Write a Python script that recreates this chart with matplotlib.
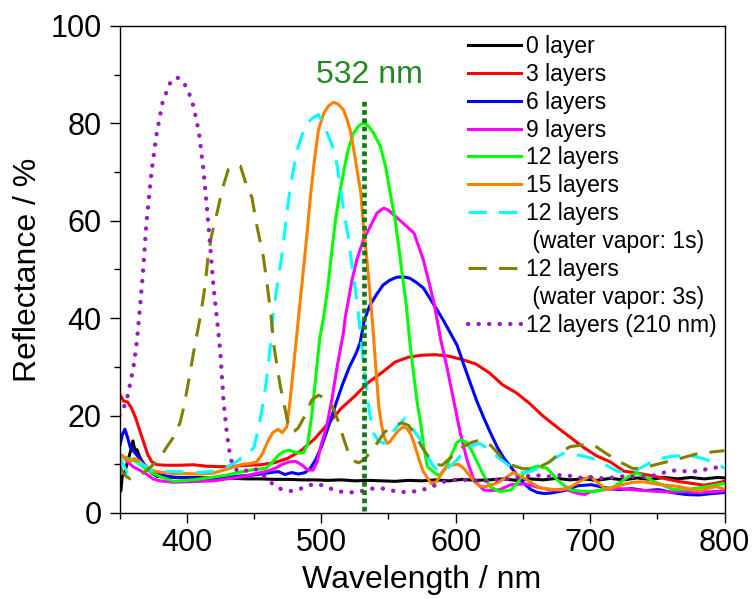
import matplotlib
matplotlib.use('Agg')
import matplotlib.pyplot as plt
from matplotlib.lines import Line2D

plt.rcParams['font.family'] = ['Liberation Sans', 'DejaVu Sans']

# ---------------- data ----------------
wl_0 = [350, 351, 352, 354, 356, 358, 360, 361.5, 363, 365, 368, 371, 374, 378, 385, 395, 405, 415, 425,
        435, 445, 455, 465, 475, 485, 495, 505, 515, 525, 535, 545, 555, 565, 575, 585, 595, 605, 615,
        625, 635, 645, 655, 665, 675, 685, 695, 705, 715, 725, 735, 745, 755, 765, 775, 785, 795, 800]
r_0 = [4.8, 4.5, 7.5, 8.5, 10.5, 12.5, 14.8, 12.8, 13.0, 11.5, 10.0, 9.2, 8.2, 7.5, 7.4, 7.3, 7.3, 7.2, 7.2,
       7.1, 7.0, 7.0, 6.9, 6.9, 6.8, 6.8, 6.7, 6.8, 6.6, 6.7, 6.6, 6.5, 6.7, 6.6, 6.8, 6.6, 6.9, 6.7,
       6.8, 7.0, 6.7, 7.0, 6.8, 7.1, 6.8, 7.0, 6.7, 7.1, 6.8, 7.2, 6.9, 7.3, 7.0, 7.3, 7.0, 7.3, 7.2]

wl_3 = [350, 353, 356, 359, 362, 365, 368, 371, 374, 378, 385, 395, 405, 415, 425, 435, 445, 455, 465,
        475, 485, 495, 505, 515, 525, 535, 545, 555, 565, 575, 585, 595, 605, 615, 625, 635, 645, 655,
        665, 675, 685, 695, 705, 715, 725, 735, 745, 755, 765, 775, 785, 795, 800]
r_3 = [24.5, 23.0, 22.8, 21.5, 19.5, 17.0, 14.5, 12.0, 10.5, 9.9, 9.8, 9.8, 9.9, 9.6, 9.5, 9.6, 9.8, 9.9, 10.3,
       11.2, 12.8, 15.2, 18.3, 21.5, 24.0, 26.8, 28.8, 31.0, 32.0, 32.4, 32.5, 32.2, 31.5, 30.6, 28.8, 26.3,
       24.7, 22.5, 19.9, 17.7, 15.6, 13.5, 11.7, 10.5, 8.6, 8.2, 7.7, 7.1, 6.5, 6.1, 5.7, 6.2, 6.5]

wl_6 = [350, 352, 354, 356, 358, 361, 365, 369, 373, 377, 381, 390, 400, 420, 440, 450, 460, 468, 473,
        478, 483, 488, 492, 496, 500, 504, 507, 511, 516, 521, 526, 529, 532, 536, 541, 546, 551, 556,
        561, 566, 571, 576, 581, 586, 591, 596, 601, 606, 611, 616, 621, 626, 631, 636, 641, 646, 651,
        656, 661, 666, 671, 681, 691, 701, 711, 721, 731, 741, 751, 761, 771, 781, 791, 800]
r_6 = [13.5, 16.0, 17.2, 15.5, 13.5, 12.5, 11.2, 9.8, 8.8, 8.3, 7.8, 7.3, 7.2, 7.0, 7.6, 7.8, 8.2, 8.5, 7.9,
       8.3, 8.0, 8.3, 9.2, 11.0, 13.5, 16.6, 19.0, 22.5, 26.5, 30.0, 32.8, 35.0, 39.5, 42.5, 44.8, 46.8,
       47.8, 48.4, 48.5, 48.2, 47.3, 46.2, 44.0, 41.8, 39.5, 37.0, 34.5, 30.5, 26.6, 22.8, 19.5, 16.4,
       13.5, 11.2, 9.5, 7.6, 6.0, 4.8, 4.2, 4.0, 4.1, 4.6, 5.6, 5.8, 5.2, 4.8, 5.0, 4.6, 4.8, 4.2, 3.8,
       3.7, 4.0, 4.2]

wl_9 = [350, 353, 356, 360, 365, 370, 375, 380, 390, 400, 420, 440, 450, 460, 466, 471, 476, 481, 486,
        490, 494, 497, 500, 504, 508, 512, 516.5, 518, 520.5, 523, 526.5, 531.5, 536.5, 541.5, 546.5,
        550, 554, 561, 569, 576, 581, 584, 589, 593.5, 598.5, 603.5, 608.5, 613.5, 621, 627, 633, 641,
        651, 661, 671, 681, 691, 696, 701, 711, 721, 731, 741, 751, 761, 771, 781, 791, 800]
r_9 = [12.0, 11.5, 10.5, 9.5, 8.8, 8.0, 7.0, 6.6, 6.3, 6.4, 6.6, 7.4, 8.0, 8.6, 9.2, 10.0, 10.5, 10.6, 9.8,
       8.8, 8.8, 10.5, 14.0, 17.7, 23.4, 30.2, 36.9, 40.3, 44.0, 47.9, 52.0, 56.1, 58.8, 61.6, 62.6,
       62.2, 61.2, 59.5, 57.5, 52.0, 46.5, 43.0, 35.5, 30.0, 23.2, 16.4, 10.9, 6.8, 4.7, 4.6, 4.8, 5.8,
       6.0, 5.3, 4.7, 4.9, 4.0, 3.8, 4.4, 4.8, 5.0, 4.8, 4.6, 4.4, 4.3, 4.4, 4.2, 4.4, 4.5]

wl_12 = [350, 353, 356, 360, 364, 368, 372, 376, 380, 390, 405, 418, 430, 440, 447, 453, 459, 464, 468,
         472, 476, 480, 484, 487, 490, 493, 496, 499, 502, 505, 508, 511, 514, 517, 520, 524, 528, 531.5,
         535, 539, 544, 548, 551.5, 555, 558, 560, 563, 566, 569, 571.5, 574, 576.5, 579, 582, 586, 589,
         593, 597, 601, 604, 608, 612, 616, 620, 626, 633, 641, 646, 651, 656, 661, 668, 672, 676, 681,
         686, 693, 703, 711, 718, 725, 730, 735, 741, 748, 755, 762, 770, 780, 790, 800]
r_12 = [11.5, 11.6, 11.2, 10.9, 10.3, 9.4, 8.6, 8.0, 7.5, 6.5, 6.8, 7.3, 7.8, 8.4, 8.8, 9.0, 9.2, 10.5, 11.8,
        12.6, 12.9, 12.5, 12.3, 12.4, 14.2, 20.0, 28.0, 36.0, 40.5, 46.5, 54.0, 60.8, 66.0, 70.5, 74.5,
        78.0, 79.5, 80.1, 79.5, 78.0, 75.3, 71.0, 65.5, 60.2, 54.0, 49.5, 43.5, 35.0, 28.0, 22.5, 18.5,
        13.2, 9.5, 8.8, 7.9, 7.8, 9.5, 12.0, 14.5, 15.0, 14.5, 12.8, 10.5, 8.2, 5.3, 4.4, 4.7, 6.2, 8.2,
        9.2, 9.6, 9.2, 8.0, 6.7, 5.6, 4.7, 4.5, 4.4, 4.9, 5.4, 6.8, 7.7, 8.2, 7.4, 6.4, 5.6, 4.8, 4.8,
        5.1, 5.6, 6.1]

wl_15 = [350, 352, 355, 358, 361, 364, 368, 372, 376, 380, 390, 400, 410, 420, 430, 440, 448, 452, 456,
         460, 464, 468, 471, 474.5, 477, 479.5, 482, 484.5, 487, 489.5, 492, 495, 498, 502, 505.5, 509,
         512.5, 516.5, 519, 521.5, 523.5, 525.5, 527.5, 529.5, 531.5, 534, 536.5, 538.5, 541, 543, 545,
         547, 549, 551, 554, 557, 561, 564, 567, 570, 573, 576, 579, 582, 586, 590, 594, 598, 602, 606,
         610, 614, 618, 622, 627, 631, 637, 643, 648, 653, 658, 663, 670, 678, 686, 693, 700, 706, 712,
         718, 725, 732, 740, 748, 756, 764, 770, 776, 782, 788, 794, 800]
r_15 = [11.6, 11.8, 11.0, 10.6, 11.2, 10.8, 9.9, 9.2, 8.6, 8.4, 8.1, 8.1, 8.0, 8.2, 9.0, 9.9, 10.2, 10.5,
        12.0, 14.5, 16.5, 17.2, 16.5, 17.7, 23.4, 30.2, 37.0, 43.8, 50.5, 57.5, 65.0, 72.5, 78.7, 82.1,
        83.6, 84.3, 84.0, 82.8, 81.0, 78.7, 75.8, 72.5, 69.0, 65.7, 58.8, 52.0, 44.4, 38.0, 28.5, 21.5,
        17.9, 15.5, 14.3, 14.6, 15.7, 16.8, 17.7, 17.3, 16.0, 13.5, 10.8, 8.5, 7.2, 6.0, 6.5, 8.4, 9.6,
        9.9, 10.0, 9.2, 7.8, 6.4, 5.5, 5.4, 5.8, 6.2, 7.2, 8.3, 7.6, 6.8, 5.9, 5.1, 4.9, 4.7, 5.4, 6.6,
        7.5, 6.2, 4.8, 5.3, 5.9, 6.3, 6.4, 6.0, 5.7, 5.5, 5.2, 4.7, 4.5, 5.1, 5.4, 4.9]

wl_v1 = [350, 353, 356, 360, 365, 370, 375, 380, 390, 400, 410, 420, 430, 437, 443, 447, 450, 453, 456,
         459.5, 462, 464.5, 468, 471, 474.5, 477, 480, 483, 488, 493, 498, 501, 504.5, 509, 512, 515.5,
         518, 520.5, 523, 526.5, 530, 533, 536, 539, 542.5, 546.5, 551, 556.5, 562.5, 567, 570, 574, 579,
         583.5, 588.5, 594, 600, 606, 612, 618, 624, 630, 636, 642, 649, 656, 664, 672, 680, 688, 696,
         704, 712, 720, 728, 736, 744, 752, 760, 768, 776, 784, 792, 800]
r_v1 = [11.5, 9.8, 8.2, 9.0, 10.2, 9.5, 8.6, 8.6, 8.5, 8.4, 8.3, 8.6, 9.5, 10.5, 11.8, 12.5, 13.5, 17.0,
        21.2, 27.6, 33.7, 41.5, 47.9, 53.4, 61.6, 67.0, 71.5, 75.3, 79.4, 81.0, 81.8, 80.2, 78.0, 74.9,
        71.2, 64.3, 60.1, 56.1, 50.6, 43.7, 35.0, 27.0, 20.5, 16.4, 14.8, 14.3, 15.8, 17.7, 19.5, 17.8,
        16.5, 15.0, 11.6, 9.6, 8.4, 9.2, 10.6, 12.5, 13.8, 14.3, 13.2, 11.8, 10.5, 9.3, 8.3, 8.5, 9.6,
        11.0, 12.2, 12.0, 11.6, 11.0, 9.8, 8.6, 8.3, 9.0, 10.2, 11.2, 11.6, 11.8, 11.7, 11.2, 10.4, 9.2]

wl_v3 = [350, 352, 355, 358, 362, 366, 370, 375, 380, 385, 390, 395, 398, 401, 405, 410, 413.5, 416, 418.5,
         422, 427, 431, 435, 440, 444.5, 448.5, 452, 457, 460, 462.5, 465, 469.5, 475, 479, 483, 488, 493,
         498, 504, 509, 513, 517, 520, 524, 528, 532, 537, 542, 547, 554, 560, 565, 570, 575, 580, 585,
         590, 598, 605, 612, 618, 626, 634, 642, 650, 660, 670, 678, 685, 695, 703, 712, 722, 732, 740,
         747, 757, 767, 780, 790, 800]
r_v3 = [9.8, 8.5, 7.5, 7.0, 7.4, 7.9, 8.7, 9.9, 11.2, 13.5, 15.5, 18.5, 22.0, 26.5, 32.8, 40.2, 46.3, 53.0,
        57.0, 61.0, 67.0, 70.6, 71.4, 71.2, 67.2, 64.8, 59.2, 52.6, 46.5, 41.0, 34.0, 26.2, 18.8, 16.5,
        17.5, 20.0, 23.2, 24.2, 23.4, 21.5, 18.6, 15.0, 12.6, 10.7, 10.3, 11.0, 12.6, 14.5, 16.6, 17.9,
        18.5, 18.0, 16.0, 13.5, 11.5, 10.0, 9.8, 11.8, 13.5, 14.5, 15.0, 13.9, 11.5, 9.8, 9.1, 9.1, 10.5,
        12.5, 13.6, 14.0, 13.9, 12.2, 10.5, 9.1, 9.3, 9.8, 10.5, 11.2, 12.2, 12.5, 12.8]

wl_210 = [350, 353, 356, 359, 361, 363, 365, 367.5, 370, 374, 377.5, 382, 387.5, 392.5, 397, 401, 405, 409,
          412.5, 415, 417.5, 420, 422.5, 425, 427.5, 430, 432.5, 435, 438, 442, 446, 450, 455, 461, 467,
          472, 478, 484, 490, 496, 502, 508, 514, 520, 526, 532, 538, 544, 550, 556, 562, 568, 574, 580,
          586, 592, 598, 606, 614, 622, 630, 638, 646, 654, 662, 670, 678, 686, 694, 702, 710, 718, 726,
          734, 742, 750, 758, 766, 774, 782, 790, 796, 800]
r_210 = [20.0, 21.5, 24.0, 28.0, 31.0, 35.5, 41.5, 49.5, 59.5, 70.5, 77.7, 84.3, 88.2, 89.5, 88.7, 86.8,
         83.5, 78.3, 70.3, 62.8, 54.6, 46.2, 39.8, 33.0, 22.5, 16.0, 11.3, 9.4, 8.6, 8.4, 8.9, 9.2, 8.3,
         6.6, 5.3, 4.7, 4.5, 4.9, 5.6, 6.0, 5.6, 4.9, 4.4, 4.2, 4.3, 4.6, 5.0, 5.1, 4.8, 4.4, 4.3, 4.4,
         4.6, 5.2, 5.8, 6.5, 6.8, 6.8, 6.7, 6.6, 6.8, 7.0, 7.2, 7.6, 7.7, 7.5, 7.8, 7.6, 7.2, 7.4, 7.1,
         7.3, 7.6, 7.4, 7.5, 7.8, 8.6, 8.8, 8.4, 8.7, 9.2, 9.4, 9.0]

labels = ['0 layer', '3 layers', '6 layers', '9 layers', '12 layers', '15 layers']
extra_labels = ['12 layers', ' (water vapor: 1s)', '12 layers', ' (water vapor: 3s)', '12 layers (210 nm)']
laser_wl = 532
laser_text = '532 nm'
x_ticks = [400, 500, 600, 700, 800]
y_ticks = [0, 20, 40, 60, 80, 100]

# ---------------- figure ----------------
fig = plt.figure(figsize=(7.54, 5.99), dpi=100)
ax = fig.add_axes([0.1585, 0.1436, 0.8024, 0.8130])

lw = 2.2
solid_sets = [(wl_0, r_0, '#000000'), (wl_3, r_3, '#ff0000'), (wl_6, r_6, '#0000ff'),
              (wl_9, r_9, '#ff00ff'), (wl_12, r_12, '#00ff00'), (wl_15, r_15, '#ff8000')]
handles = []
for (x, y, c), lab in zip(solid_sets, labels):
    h, = ax.plot(x, y, color=c, lw=lw, solid_joinstyle='round', label=lab)
    handles.append(h)

h_v1, = ax.plot(wl_v1, r_v1, color='#00ffff', lw=lw, linestyle=(0, (6, 4.0)))
h_v3, = ax.plot(wl_v3, r_v3, color='#808000', lw=lw, linestyle=(0, (6, 4.0)))
h_210, = ax.plot(wl_210, r_210, color='#9a1ac8', lw=3.1, linestyle=(0, (0.05, 2.4)),
                 dash_capstyle='round')

ax.plot([laser_wl, laser_wl], [0.5, 85], color='#127a12', lw=3.4, linestyle=(0, (1.0, 0.75)),
        zorder=5)
ax.text(536, 88.3, laser_text, color='#1f8a1f', fontsize=23, ha='center', va='baseline')

blank = Line2D([], [], color='none')
leg_handles = handles + [h_v1, blank, h_v3, blank, h_210]
leg_labels = labels + extra_labels
ax.legend(leg_handles, leg_labels, loc='upper left', bbox_to_anchor=(0.5765, 0.982),
          frameon=False, fontsize=16.5, handlelength=2.3, handletextpad=0.2, labelspacing=0.215,
          borderpad=0, borderaxespad=0)

ax.set_xlim(350, 800)
ax.set_ylim(0, 100)
ax.set_xticks(x_ticks)
ax.set_xticks([350, 450, 550, 650, 750], minor=True)
ax.set_yticks(y_ticks)
ax.set_yticks([10, 30, 50, 70, 90], minor=True)
ax.tick_params(axis='both', which='major', direction='out', length=7, width=1.0, labelsize=22)
ax.tick_params(axis='both', which='minor', direction='out', length=4, width=1.0)
ax.tick_params(axis='x', which='major', pad=4)
ax.tick_params(axis='y', which='major', pad=6)
for s in ax.spines.values():
    s.set_linewidth(1.0)

ax.set_xlabel('Wavelength / nm', fontsize=23, labelpad=5)
ax.set_ylabel('Reflectance / %', fontsize=23, labelpad=5)

fig.savefig('out.png', dpi=100)
